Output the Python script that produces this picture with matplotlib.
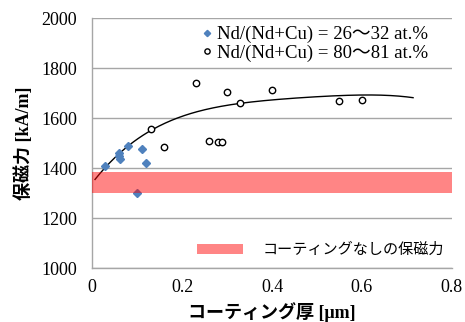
import numpy as np
import matplotlib
matplotlib.use("Agg")
import matplotlib.pyplot as plt
from matplotlib.lines import Line2D
from matplotlib.patches import Patch

# Data
low_x = [0.028, 0.059, 0.060, 0.062, 0.079, 0.110, 0.120, 0.0995]
low_y = [1409, 1462, 1449, 1436, 1489, 1478, 1420, 1300]
high_x = [0.13, 0.16, 0.23, 0.26, 0.279, 0.289, 0.30, 0.329, 0.40, 0.55, 0.60]
high_y = [1556, 1486, 1741, 1508, 1505, 1505, 1705, 1662, 1712, 1670, 1674]
curve_x = [0.006, 0.028, 0.058, 0.095, 0.132, 0.206, 0.281, 0.329, 0.384, 0.462, 0.536, 0.611, 0.714]
curve_y = [1350, 1404, 1460, 1513, 1553, 1607, 1640, 1662, 1674, 1686, 1689, 1689, 1684]
band_low, band_high = 1300, 1385

label_low = "Nd/(Nd+Cu) = 26～32 at.%"
label_high = "Nd/(Nd+Cu) = 80～81 at.%"
label_band = "コーティングなしの保磁力"
xlabel = "コーティング厚 [μm]"
ylabel = "保磁力 [kA/m]"

serif = ["Liberation Serif", "Noto Sans CJK JP"]
jp = ["Noto Sans CJK JP", "DejaVu Sans"]

fig = plt.figure(figsize=(4.65, 3.22), dpi=100)
ax = fig.add_axes([0.1985, 0.1668, 0.7729, 0.7764])

ax.set_xlim(0, 0.8)
ax.set_ylim(1000, 2000)
ax.set_xticks([0, 0.2, 0.4, 0.6, 0.8])
ax.set_xticklabels(["0", "0.2", "0.4", "0.6", "0.8"])
ax.set_yticks([1000, 1200, 1400, 1600, 1800, 2000])
ax.tick_params(length=0, labelsize=13)
ax.tick_params(axis="y", pad=11)
ax.tick_params(axis="x", pad=8)
for lab in ax.get_xticklabels() + ax.get_yticklabels():
    lab.set_family(serif)

ax.grid(axis="y", color="#a6a6a6", lw=1)
ax.set_axisbelow(True)
for s in ["top", "right"]:
    ax.spines[s].set_visible(False)
for s in ["left", "bottom"]:
    ax.spines[s].set_color("#a6a6a6")
    ax.spines[s].set_linewidth(1)

ax.plot(low_x, low_y, "D", color="#4f81bd", ms=4.2, mec="#4f81bd", zorder=3)
ax.plot(high_x, high_y, "o", mfc="white", mec="black", mew=1, ms=4.6, zorder=3)

coef = np.polyfit(curve_x, curve_y, 4)
xs = np.linspace(curve_x[0], curve_x[-1], 200)
ax.plot(xs, np.polyval(coef, xs), color="black", lw=1, zorder=2)

ax.axhspan(band_low, band_high, color="red", alpha=0.48, lw=0, zorder=4)

h1 = Line2D([], [], marker="D", color="#4f81bd", ls="none", ms=3.2)
h2 = Line2D([], [], marker="o", mfc="white", mec="black", ls="none", ms=3.8)
leg1 = ax.legend([h1, h2], [label_low, label_high], loc="center right",
                 bbox_to_anchor=(0.934, 0.898), frameon=False,
                 prop={"family": serif, "size": 13.5}, handlelength=0.5,
                 handletextpad=0.3, labelspacing=0.07, borderaxespad=0,
                 borderpad=0)
ax.add_artist(leg1)
h3 = Patch(facecolor="red", alpha=0.48, lw=0)
ax.legend([h3], [label_band], loc="center right", bbox_to_anchor=(0.978, 0.075),
          frameon=False, prop={"family": jp, "size": 10.9}, borderaxespad=0,
          borderpad=0, handlelength=3.0, handleheight=0.6, handletextpad=1.3)

ax.set_xlabel(xlabel, family=serif, fontweight="bold", fontsize=13, labelpad=4)
ax.set_ylabel(ylabel, family=serif, fontweight="bold", fontsize=13, labelpad=6)

fig.savefig("out.png", dpi=100)
